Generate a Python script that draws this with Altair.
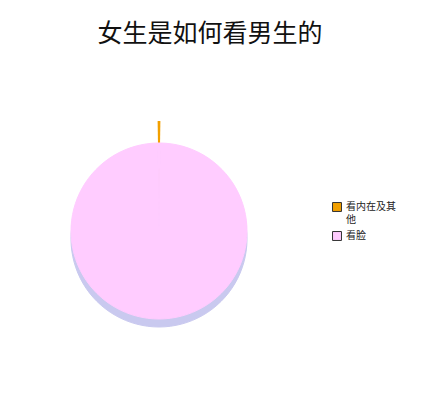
import math
import altair as alt
import pandas as pd

categories = ["看内在及其他", "看脸"]
values = [0.5, 99.5]
colors = ["#f2a000", "#ffccff"]
rim_color = "#c9c9ef"
title_text = "女生是如何看男生的"

df = pd.DataFrame({"cat": categories, "val": values, "idx": list(range(len(categories)))})

off = math.pi * values[0] / sum(values)
CX, CY, R = 151, 167, 88

theta = alt.Theta("val:Q", stack=True,
                  scale=alt.Scale(range=[-off, 2 * math.pi - off]))
order = alt.Order("idx:Q")
color = alt.Color(
    "cat:N",
    scale=alt.Scale(domain=categories, range=colors),
    legend=alt.Legend(
        title=None, orient="none", legendX=324, legendY=138,
        symbolType="square", symbolSize=80, symbolStrokeWidth=1,
        symbolStrokeColor="#333", labelFont="Noto Sans CJK SC",
        labelFontSize=10, labelColor="#222", rowPadding=4,
        labelExpr="datum.label == '看内在及其他' ? ['看内在及其', '他'] : datum.label",
    ),
)

base = alt.Chart(df)

rim = base.mark_arc(radius=R, x=CX, y=CY + 8, color=rim_color,
                    stroke=rim_color, strokeWidth=1).encode(
    theta=theta, order=order)

explode = base.mark_arc(radius=R, x=CX, y=CY - 22).encode(
    theta=theta, order=order, color=color,
    opacity=alt.condition(alt.datum.idx == 0, alt.value(1), alt.value(0)))

top = base.mark_arc(radius=R, x=CX, y=CY, color=colors[1],
                    stroke=colors[1], strokeWidth=1).encode(
    theta=theta, order=order)

chart = alt.layer(rim, explode, top).properties(
    width=404, height=330,
    autosize=alt.AutoSizeParams(type="none"),
    padding={"left": 0, "top": 56, "right": 0, "bottom": 0},
    title=alt.TitleParams(title_text, font="Noto Sans CJK SC", fontSize=25,
                          fontWeight="normal", color="#111", anchor="middle",
                          offset=17),
).configure_view(stroke=None).configure(
    style={"guide-label": {"lineHeight": 13}})

chart.save("out.html", embed_options={"renderer": "svg", "actions": False})
